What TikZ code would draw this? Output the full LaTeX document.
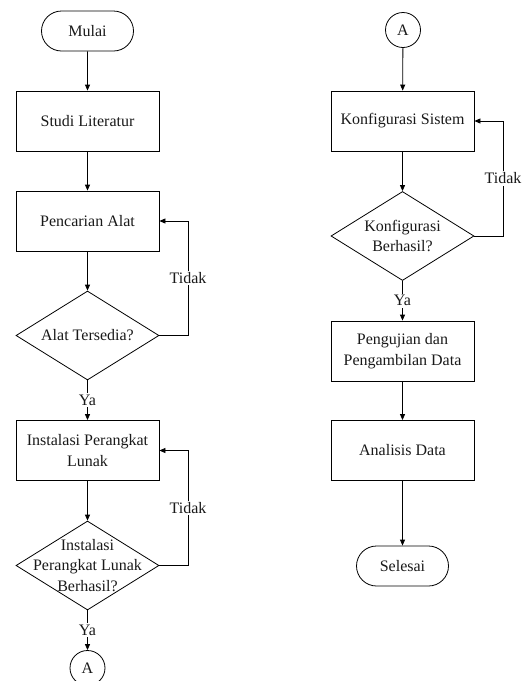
\documentclass[tikz,border=0pt]{standalone}
\usepackage{fontspec}
\setmainfont{Liberation Serif}
\usetikzlibrary{shapes.geometric,shapes.misc,arrows.meta}
\begin{document}
\begin{tikzpicture}[x=1pt,y=-1pt,
  every node/.style={font=\fontsize{16}{20.5}\selectfont, text=black!90},
  proc/.style={draw, line width=0.8pt, minimum width=143pt, minimum height=60pt, align=center, inner sep=2pt},
  term/.style={draw, line width=0.8pt, rounded rectangle, minimum width=96pt, minimum height=40pt, inner sep=2pt},
  dec/.style={draw, line width=0.8pt, diamond, minimum width=143pt, minimum height=89pt, inner sep=0pt},
  conn/.style={draw, line width=0.8pt, circle, minimum size=35pt, inner sep=0pt},
  flow/.style={line width=0.8pt, -{Triangle[length=6pt,width=5pt]}},
  lab/.style={fill=white, inner sep=1.5pt}
]
\useasboundingbox (0,0) rectangle (524,681);
% left column
\node[term] (mulai) at (87.5,31) {Mulai};
\node[proc] (studi) at (87.5,121) {Studi Literatur};
\node[proc] (cari) at (87.5,221) {Pencarian Alat};
\node[dec, label={center:Alat Tersedia?}] (d1) at (87.5,335.5) {};
\node[proc] (inst) at (87.5,450.5) {Instalasi Perangkat\\Lunak};
\node[dec, label={[align=center]center:Instalasi\\Perangkat Lunak\\Berhasil?}] (d2) at (87.5,565.5) {};
\node[conn] (a1) at (87.5,668) {A};
\coordinate (l1) at (188,335.5);
\coordinate (l2) at (188,565.5);
% right column
\node[conn] (a2) at (403,30) {A};
\node[proc] (konf) at (402.5,121) {Konfigurasi Sistem};
\node[dec, label={[align=center]center:Konfigurasi\\Berhasil?}] (d3) at (402.5,236) {};
\node[proc] (uji) at (402.5,351) {Pengujian dan\\Pengambilan Data};
\node[proc] (anal) at (402.5,450.5) {Analisis Data};
\node[term] (sel) at (402.5,566) {Selesai};
\coordinate (l3) at (503,236);
% connectors
\draw[flow] (mulai) -- (studi);
\draw[flow] (studi) -- (cari);
\draw[flow] (cari) -- (d1);
\draw[flow] (d1) -- node[lab, pos=0.5] {Ya} (inst);
\draw[flow] (d1.east) -- (l1) -- node[lab, pos=0.5] {Tidak} (l1 |- cari.east) -- (cari.east);
\draw[flow] (inst) -- (d2);
\draw[flow] (d2.east) -- (l2) -- node[lab, pos=0.5] {Tidak} (l2 |- inst.east) -- (inst.east);
\draw[flow] (d2) -- node[lab, pos=0.5] {Ya} (a1);
\draw[flow] (a2) -- (konf);
\draw[flow] (konf) -- (d3);
\draw[flow] (d3.east) -- (l3) -- node[lab, pos=0.5] {Tidak} (l3 |- konf.east) -- (konf.east);
\draw[flow] (d3) -- node[lab, pos=0.5] {Ya} (uji);
\draw[flow] (uji) -- (anal);
\draw[flow] (anal) -- (sel);
\end{tikzpicture}
\end{document}
